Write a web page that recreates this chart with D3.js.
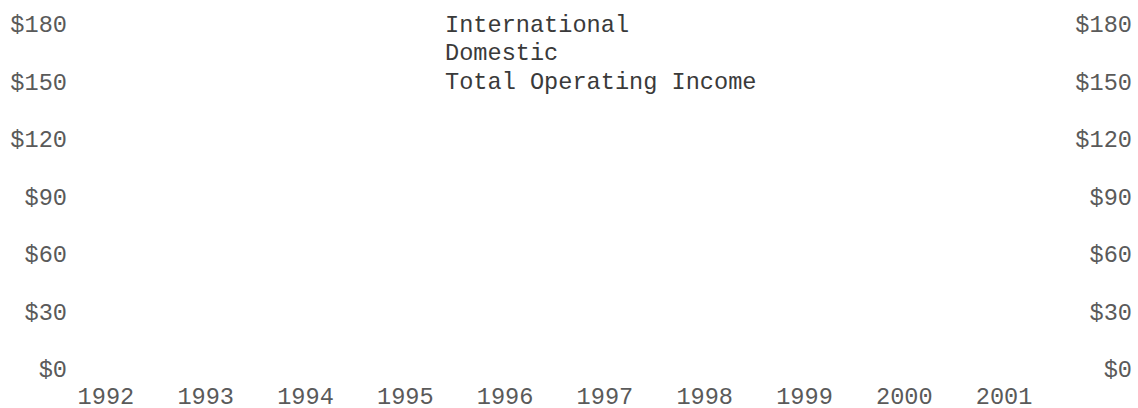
<!DOCTYPE html>
<html>
<head>
<meta charset="utf-8">
<script src="https://cdn.jsdelivr.net/npm/d3@7"></script>
<style>
  html, body { margin: 0; padding: 0; background: #fff; }
  svg { display: block; }
  text { font-family: "Liberation Mono", "Courier New", monospace; }
</style>
</head>
<body>
<svg id="chart" width="1138" height="408"></svg>
<script>
// ---- data (no marks are visible in the reference; values are absent) ----
const years = ["1992","1993","1994","1995","1996","1997","1998","1999","2000","2001"];
const international = [null,null,null,null,null,null,null,null,null,null];
const domestic = [null,null,null,null,null,null,null,null,null,null];
const totalOperatingIncome = [null,null,null,null,null,null,null,null,null,null];
const seriesNames = ["International","Domestic","Total Operating Income"];
const yTicks = [0,30,60,90,120,150,180];

const svg = d3.select("#chart");
const plotTop = 24, plotBottom = 369;

const x = d3.scaleBand().domain(years).range([56, 1054]).padding(0);
const y = d3.scaleLinear().domain([0,180]).range([plotBottom, plotTop]);

const fmt = d => "$" + d;

// left axis
const gl = svg.append("g").attr("transform", "translate(70,0)")
  .call(d3.axisLeft(y).tickValues(yTicks).tickFormat(fmt).tickSize(0).tickPadding(3));
// right axis (labels right aligned at the right edge)
const gr = svg.append("g").attr("transform", "translate(1135,0)")
  .call(d3.axisLeft(y).tickValues(yTicks).tickFormat(fmt).tickSize(0).tickPadding(3));
// bottom axis
const gb = svg.append("g").attr("transform", `translate(0,${plotBottom + 27})`)
  .call(d3.axisBottom(x).tickSize(0).tickPadding(0));
gb.selectAll("text").attr("dy", "0.32em");

[gl, gr, gb].forEach(g => {
  g.select(".domain").remove();
  g.selectAll("text").attr("font-size", 23.6).attr("fill", "#5a5a5a")
    .attr("font-family", "Liberation Mono");
});

// marks (none present: values are null)
const groups = [
  {name: seriesNames[0], values: international, color: "#1f4e79"},
  {name: seriesNames[1], values: domestic, color: "#7fa7d0"}
];
const sub = d3.scaleBand().domain(groups.map(g => g.name)).range([0, x.bandwidth()]).padding(0.2);
groups.forEach(g => {
  svg.append("g").selectAll("rect")
    .data(years.map((yr, i) => ({yr, v: g.values[i]})).filter(d => d.v != null))
    .join("rect")
    .attr("x", d => x(d.yr) + sub(g.name))
    .attr("width", sub.bandwidth())
    .attr("y", d => y(d.v))
    .attr("height", d => y(0) - y(d.v))
    .attr("fill", g.color);
});
const line = d3.line().defined(d => d.v != null)
  .x(d => x(d.yr) + x.bandwidth() / 2).y(d => y(d.v));
svg.append("path")
  .datum(years.map((yr, i) => ({yr, v: totalOperatingIncome[i]})).filter(d => d.v != null))
  .attr("fill", "none").attr("stroke", "#333").attr("d", line);

// legend (text only)
svg.append("g").selectAll("text").data(seriesNames).join("text")
  .attr("x", 445)
  .attr("y", (d, i) => 32 + i * 28.3)
  .attr("font-size", 23.6)
  .attr("fill", "#3a3a3a")
  .text(d => d);
</script>
</body>
</html>
